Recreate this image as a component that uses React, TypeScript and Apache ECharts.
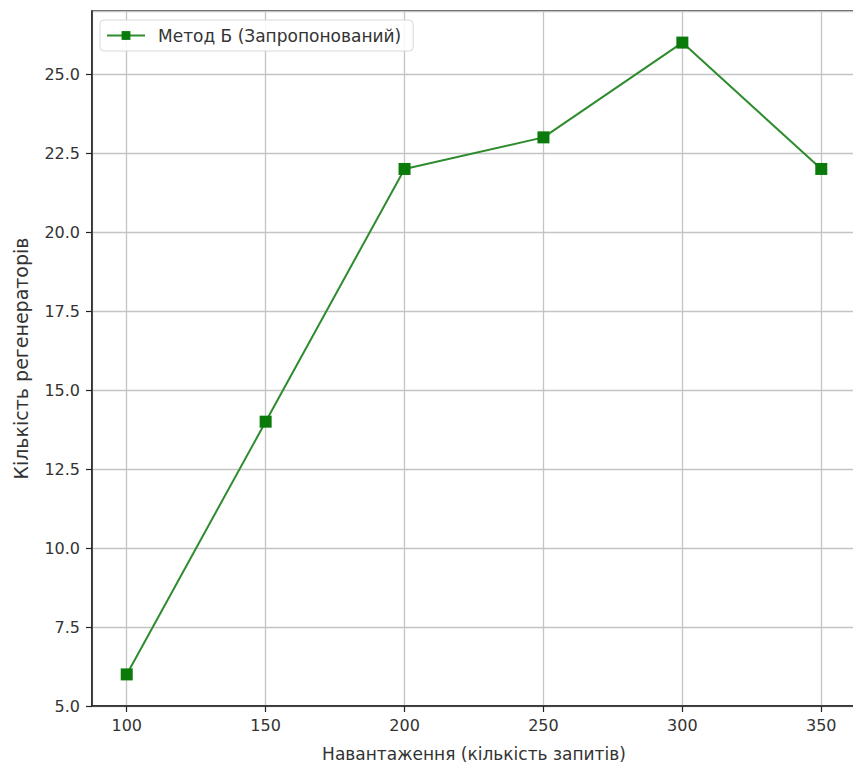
import React, { useEffect, useRef } from "react";
import * as echarts from "echarts";

const loads = [100, 150, 200, 250, 300, 350];
const regenerators = [6, 14, 22, 23, 26, 22];
const seriesName = "Метод Б (Запропонований)";
const xTitle = "Навантаження (кількість запитів)";
const yTitle = "Кількість регенераторів";

export default function App() {
  const ref = useRef<HTMLDivElement>(null);
  useEffect(() => {
    document.body.style.margin = "0";
    const chart = echarts.init(ref.current!, null, { renderer: "svg" });
    const font = "DejaVu Sans";
    const txt = "#333";
    chart.setOption({
      animation: false,
      backgroundColor: "#ffffff",
      textStyle: { fontFamily: font },
      grid: {
        left: 92,
        top: 11,
        bottom: 63,
        right: 4,
        show: true,
        borderColor: "#222",
        borderWidth: 1.5,
        backgroundColor: "transparent",
      },
      legend: {
        left: 100,
        top: 20,
        data: [seriesName],
        itemWidth: 38,
        itemHeight: 11,
        itemGap: 10,
        padding: [7, 12, 7, 6],
        backgroundColor: "rgba(255,255,255,0.85)",
        borderColor: "#d8d8d8",
        borderWidth: 1,
        borderRadius: 4,
        textStyle: { fontFamily: font, fontSize: 17, color: txt, padding: [0, 0, 0, 8] },
      },
      xAxis: {
        type: "value",
        min: 87.5,
        max: 362.5,
        minInterval: 50,
        maxInterval: 50,
        name: xTitle,
        nameLocation: "middle",
        nameGap: 39,
        nameTextStyle: { fontFamily: font, fontSize: 17, color: txt },
        axisLine: { show: true, onZero: false, lineStyle: { color: "#222", width: 1.5 } },
        axisTick: { show: true, inside: false, length: 6, lineStyle: { color: "#222", width: 1.2 } },
        axisLabel: {
          fontFamily: font,
          fontSize: 16,
          color: txt,
          margin: 11,
          showMinLabel: false,
          showMaxLabel: false,
        },
        splitLine: { show: true, lineStyle: { color: "#c4c4c4", width: 1.3 } },
      },
      yAxis: {
        type: "value",
        min: 5,
        max: 27,
        interval: 2.5,
        name: yTitle,
        nameLocation: "middle",
        nameGap: 62,
        nameRotate: 90,
        nameTextStyle: { fontFamily: font, fontSize: 19, color: txt },
        axisLine: { show: true, onZero: false, lineStyle: { color: "#222", width: 1.5 } },
        axisTick: { show: true, inside: false, length: 6, lineStyle: { color: "#222", width: 1.2 } },
        axisLabel: {
          fontFamily: font,
          fontSize: 16,
          color: txt,
          margin: 12,
          showMaxLabel: false,
          formatter: (v: number) => (v > 26 ? "" : v.toFixed(1)),
        },
        splitLine: { show: true, lineStyle: { color: "#c4c4c4", width: 1.3 } },
      },
      series: [
        {
          name: seriesName,
          type: "line",
          data: loads.map((x, i) => [x, regenerators[i]]),
          symbol: "rect",
          symbolSize: 12,
          itemStyle: { color: "#0a7a0a" },
          lineStyle: { color: "#2e8b2e", width: 2 },
          z: 5,
        },
      ],
    });
    return () => chart.dispose();
  }, []);
  return (
    <div style={{ width: 853, height: 769, overflow: "hidden", position: "relative" }}>
      <div ref={ref} style={{ width: 860, height: 769 }} />
    </div>
  );
}
